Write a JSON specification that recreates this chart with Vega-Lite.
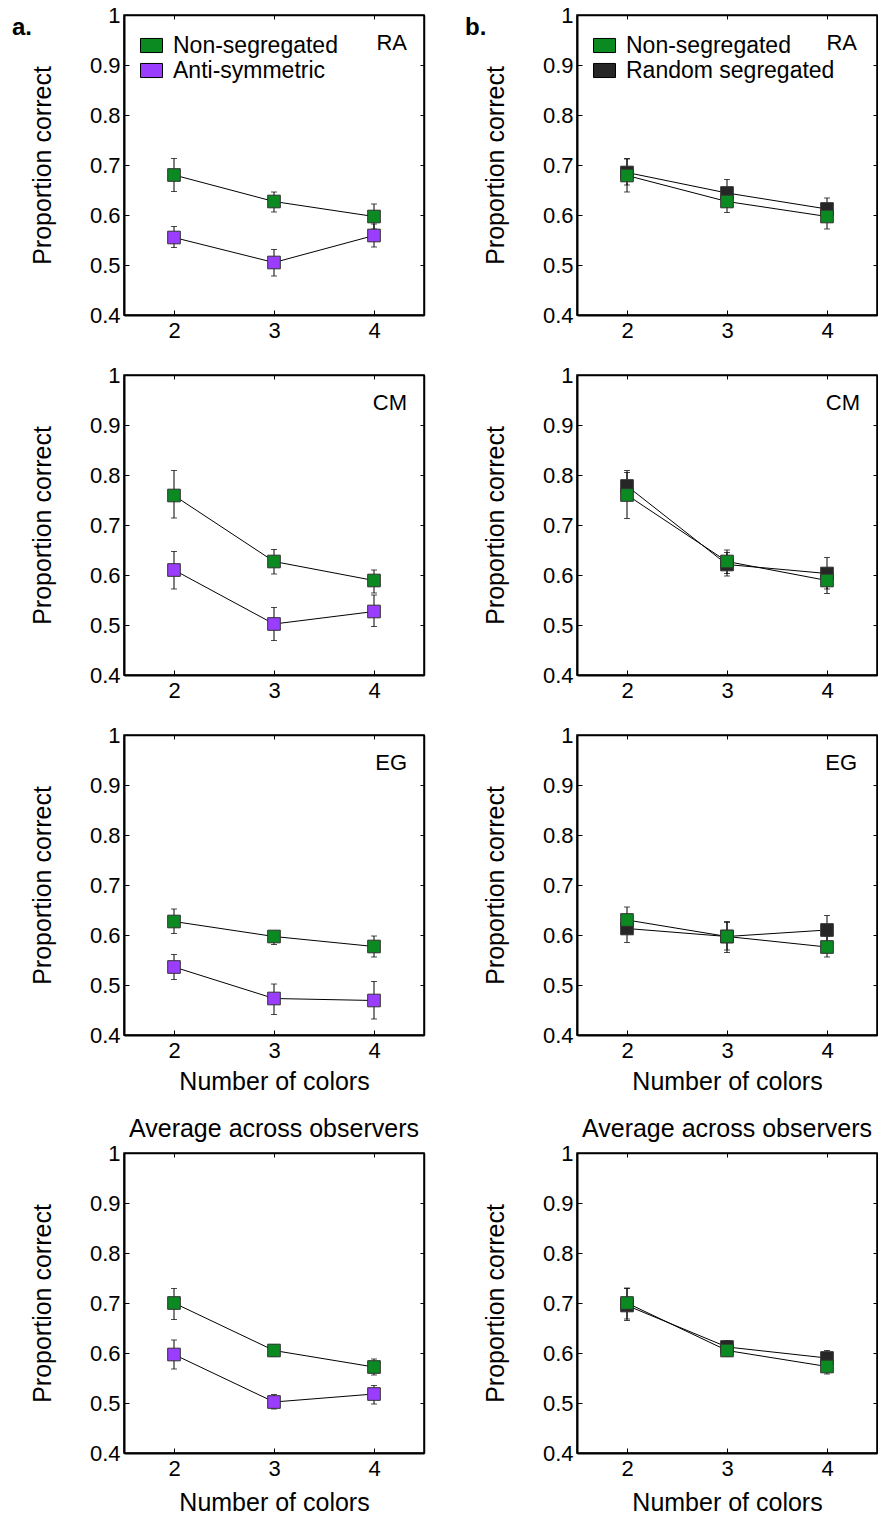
{
  "$schema": "https://vega.github.io/schema/vega-lite/v6.json",
  "background": "white",
  "padding": {"left": 12, "top": 3, "right": 0, "bottom": 0},
  "data": {"values": [
    {"panel": "aRA", "series": "Anti-symmetric", "n": 2, "mean": 0.555, "lo": 0.535, "hi": 0.577},
    {"panel": "aRA", "series": "Anti-symmetric", "n": 3, "mean": 0.505, "lo": 0.478, "hi": 0.531},
    {"panel": "aRA", "series": "Anti-symmetric", "n": 4, "mean": 0.559, "lo": 0.536, "hi": 0.582},
    {"panel": "aRA", "series": "Non-segregated", "n": 2, "mean": 0.68, "lo": 0.647, "hi": 0.713},
    {"panel": "aRA", "series": "Non-segregated", "n": 3, "mean": 0.627, "lo": 0.606, "hi": 0.646},
    {"panel": "aRA", "series": "Non-segregated", "n": 4, "mean": 0.597, "lo": 0.572, "hi": 0.622},
    {"panel": "bRA", "series": "Random segregated", "n": 2, "mean": 0.685, "lo": 0.66, "hi": 0.713},
    {"panel": "bRA", "series": "Random segregated", "n": 3, "mean": 0.644, "lo": 0.618, "hi": 0.671},
    {"panel": "bRA", "series": "Random segregated", "n": 4, "mean": 0.612, "lo": 0.59, "hi": 0.634},
    {"panel": "bRA", "series": "Non-segregated", "n": 2, "mean": 0.679, "lo": 0.646, "hi": 0.712},
    {"panel": "bRA", "series": "Non-segregated", "n": 3, "mean": 0.627, "lo": 0.605, "hi": 0.648},
    {"panel": "bRA", "series": "Non-segregated", "n": 4, "mean": 0.597, "lo": 0.572, "hi": 0.62},
    {"panel": "aCM", "series": "Anti-symmetric", "n": 2, "mean": 0.61, "lo": 0.572, "hi": 0.647},
    {"panel": "aCM", "series": "Anti-symmetric", "n": 3, "mean": 0.502, "lo": 0.469, "hi": 0.535},
    {"panel": "aCM", "series": "Anti-symmetric", "n": 4, "mean": 0.527, "lo": 0.497, "hi": 0.56},
    {"panel": "aCM", "series": "Non-segregated", "n": 2, "mean": 0.759, "lo": 0.714, "hi": 0.809},
    {"panel": "aCM", "series": "Non-segregated", "n": 3, "mean": 0.627, "lo": 0.602, "hi": 0.651},
    {"panel": "aCM", "series": "Non-segregated", "n": 4, "mean": 0.589, "lo": 0.564, "hi": 0.61},
    {"panel": "bCM", "series": "Random segregated", "n": 2, "mean": 0.778, "lo": 0.75, "hi": 0.809},
    {"panel": "bCM", "series": "Random segregated", "n": 3, "mean": 0.621, "lo": 0.598, "hi": 0.645},
    {"panel": "bCM", "series": "Random segregated", "n": 4, "mean": 0.603, "lo": 0.572, "hi": 0.635},
    {"panel": "bCM", "series": "Non-segregated", "n": 2, "mean": 0.76, "lo": 0.713, "hi": 0.805},
    {"panel": "bCM", "series": "Non-segregated", "n": 3, "mean": 0.627, "lo": 0.603, "hi": 0.65},
    {"panel": "bCM", "series": "Non-segregated", "n": 4, "mean": 0.589, "lo": 0.563, "hi": 0.612},
    {"panel": "aEG", "series": "Anti-symmetric", "n": 2, "mean": 0.536, "lo": 0.511, "hi": 0.561},
    {"panel": "aEG", "series": "Anti-symmetric", "n": 3, "mean": 0.473, "lo": 0.441, "hi": 0.502},
    {"panel": "aEG", "series": "Anti-symmetric", "n": 4, "mean": 0.469, "lo": 0.432, "hi": 0.507},
    {"panel": "aEG", "series": "Non-segregated", "n": 2, "mean": 0.627, "lo": 0.603, "hi": 0.652},
    {"panel": "aEG", "series": "Non-segregated", "n": 3, "mean": 0.597, "lo": 0.581, "hi": 0.607},
    {"panel": "aEG", "series": "Non-segregated", "n": 4, "mean": 0.577, "lo": 0.556, "hi": 0.598},
    {"panel": "bEG", "series": "Random segregated", "n": 2, "mean": 0.613, "lo": 0.585, "hi": 0.64},
    {"panel": "bEG", "series": "Random segregated", "n": 3, "mean": 0.597, "lo": 0.57, "hi": 0.627},
    {"panel": "bEG", "series": "Random segregated", "n": 4, "mean": 0.61, "lo": 0.583, "hi": 0.639},
    {"panel": "bEG", "series": "Non-segregated", "n": 2, "mean": 0.63, "lo": 0.605, "hi": 0.656},
    {"panel": "bEG", "series": "Non-segregated", "n": 3, "mean": 0.597, "lo": 0.565, "hi": 0.625},
    {"panel": "bEG", "series": "Non-segregated", "n": 4, "mean": 0.576, "lo": 0.556, "hi": 0.598},
    {"panel": "aAV", "series": "Anti-symmetric", "n": 2, "mean": 0.597, "lo": 0.568, "hi": 0.626},
    {"panel": "aAV", "series": "Anti-symmetric", "n": 3, "mean": 0.502, "lo": 0.488, "hi": 0.517},
    {"panel": "aAV", "series": "Anti-symmetric", "n": 4, "mean": 0.518, "lo": 0.498, "hi": 0.535},
    {"panel": "aAV", "series": "Non-segregated", "n": 2, "mean": 0.7, "lo": 0.667, "hi": 0.729},
    {"panel": "aAV", "series": "Non-segregated", "n": 3, "mean": 0.605, "lo": 0.593, "hi": 0.617},
    {"panel": "aAV", "series": "Non-segregated", "n": 4, "mean": 0.572, "lo": 0.556, "hi": 0.588},
    {"panel": "bAV", "series": "Random segregated", "n": 2, "mean": 0.695, "lo": 0.668, "hi": 0.73},
    {"panel": "bAV", "series": "Random segregated", "n": 3, "mean": 0.612, "lo": 0.6, "hi": 0.625},
    {"panel": "bAV", "series": "Random segregated", "n": 4, "mean": 0.59, "lo": 0.576, "hi": 0.605},
    {"panel": "bAV", "series": "Non-segregated", "n": 2, "mean": 0.7, "lo": 0.665, "hi": 0.729},
    {"panel": "bAV", "series": "Non-segregated", "n": 3, "mean": 0.605, "lo": 0.593, "hi": 0.617},
    {"panel": "bAV", "series": "Non-segregated", "n": 4, "mean": 0.573, "lo": 0.558, "hi": 0.588}
  ]},
  "spacing": 39,
  "resolve": {"scale": {"color": "independent"}, "legend": {"color": "independent"}},
  "hconcat": [
    {
      "title": {"text": "a.", "anchor": "start", "frame": "group", "fontSize": 24, "fontWeight": "bold", "offset": -37, "dx": -112},
      "spacing": 21,
      "resolve": {"scale": {"color": "independent"}, "legend": {"color": "independent"}},
      "vconcat": [
        {
          "width": 300, "height": 300,
          "title": {"text": "RA", "anchor": "end", "frame": "group", "offset": -51, "dx": -17, "fontSize": 22},
          "transform": [{"filter": "datum.panel === 'aRA'"}],
          "resolve": {"axis": {"x": "independent", "y": "independent"}},
          "layer": [
            {"mark": {"type": "rule", "color": "black", "strokeWidth": 1},
             "encoding": {
               "x": {"field": "n", "type": "quantitative", "scale": {"domain": [1.5, 4.5], "nice": false, "zero": false}, "axis": {"orient": "bottom", "values": [2, 3, 4], "format": "d", "title": null, "tickSize": -5, "labelPadding": 10, "domainWidth": 2}},
               "y": {"field": "lo", "type": "quantitative", "scale": {"domain": [0.4, 1], "nice": false, "zero": false}, "axis": {"orient": "left", "values": [0.4, 0.5, 0.6, 0.7, 0.8, 0.9, 1], "format": ".1~f", "title": "Proportion correct", "tickSize": -5, "labelPadding": 9, "titlePadding": 34, "domainWidth": 2}},
               "y2": {"field": "hi"}}},
            {"mark": {"type": "tick", "orient": "horizontal", "size": 6, "thickness": 1, "color": "black"},
             "encoding": {
               "x": {"field": "n", "type": "quantitative", "axis": {"orient": "top", "values": [2, 3, 4], "labels": false, "title": null, "tickSize": -4}},
               "y": {"field": "lo", "type": "quantitative", "axis": {"orient": "right", "values": [0.4, 0.5, 0.6, 0.7, 0.8, 0.9, 1], "labels": false, "title": null, "tickSize": -4}}}},
            {"mark": {"type": "tick", "orient": "horizontal", "size": 6, "thickness": 1, "color": "black"},
             "encoding": {"x": {"field": "n", "type": "quantitative", "axis": null}, "y": {"field": "hi", "type": "quantitative", "axis": null}}},
            {"mark": {"type": "line", "color": "black", "strokeWidth": 1},
             "encoding": {"x": {"field": "n", "type": "quantitative", "axis": null}, "y": {"field": "mean", "type": "quantitative", "axis": null}, "detail": {"field": "series"}}},
            {"mark": {"type": "point", "shape": "square", "filled": true, "size": 160, "opacity": 1, "stroke": "#333", "strokeWidth": 1},
             "encoding": {"x": {"field": "n", "type": "quantitative", "axis": null}, "y": {"field": "mean", "type": "quantitative", "axis": null},
               "color": {"field": "series", "type": "nominal", "scale": {"domain": ["Non-segregated", "Anti-symmetric"], "range": ["#0b8a22", "#9b3dff"]},
                 "legend": {"title": null, "orient": "none", "legendX": 16, "legendY": 19}}}}
          ]
        },
        {
          "width": 300, "height": 300,
          "title": {"text": "CM", "anchor": "end", "frame": "group", "offset": -51, "dx": -17, "fontSize": 22},
          "transform": [{"filter": "datum.panel === 'aCM'"}],
          "resolve": {"axis": {"x": "independent", "y": "independent"}},
          "layer": [
            {"mark": {"type": "rule", "color": "black", "strokeWidth": 1},
             "encoding": {
               "x": {"field": "n", "type": "quantitative", "scale": {"domain": [1.5, 4.5], "nice": false, "zero": false}, "axis": {"orient": "bottom", "values": [2, 3, 4], "format": "d", "title": null, "tickSize": -5, "labelPadding": 10, "domainWidth": 2}},
               "y": {"field": "lo", "type": "quantitative", "scale": {"domain": [0.4, 1], "nice": false, "zero": false}, "axis": {"orient": "left", "values": [0.4, 0.5, 0.6, 0.7, 0.8, 0.9, 1], "format": ".1~f", "title": "Proportion correct", "tickSize": -5, "labelPadding": 9, "titlePadding": 34, "domainWidth": 2}},
               "y2": {"field": "hi"}}},
            {"mark": {"type": "tick", "orient": "horizontal", "size": 6, "thickness": 1, "color": "black"},
             "encoding": {
               "x": {"field": "n", "type": "quantitative", "axis": {"orient": "top", "values": [2, 3, 4], "labels": false, "title": null, "tickSize": -4}},
               "y": {"field": "lo", "type": "quantitative", "axis": {"orient": "right", "values": [0.4, 0.5, 0.6, 0.7, 0.8, 0.9, 1], "labels": false, "title": null, "tickSize": -4}}}},
            {"mark": {"type": "tick", "orient": "horizontal", "size": 6, "thickness": 1, "color": "black"},
             "encoding": {"x": {"field": "n", "type": "quantitative", "axis": null}, "y": {"field": "hi", "type": "quantitative", "axis": null}}},
            {"mark": {"type": "line", "color": "black", "strokeWidth": 1},
             "encoding": {"x": {"field": "n", "type": "quantitative", "axis": null}, "y": {"field": "mean", "type": "quantitative", "axis": null}, "detail": {"field": "series"}}},
            {"mark": {"type": "point", "shape": "square", "filled": true, "size": 160, "opacity": 1, "stroke": "#333", "strokeWidth": 1},
             "encoding": {"x": {"field": "n", "type": "quantitative", "axis": null}, "y": {"field": "mean", "type": "quantitative", "axis": null},
               "color": {"field": "series", "type": "nominal", "scale": {"domain": ["Non-segregated", "Anti-symmetric"], "range": ["#0b8a22", "#9b3dff"]}, "legend": null}}}
          ]
        },
        {
          "width": 300, "height": 300,
          "title": {"text": "EG", "anchor": "end", "frame": "group", "offset": -51, "dx": -17, "fontSize": 22},
          "transform": [{"filter": "datum.panel === 'aEG'"}],
          "resolve": {"axis": {"x": "independent", "y": "independent"}},
          "layer": [
            {"mark": {"type": "rule", "color": "black", "strokeWidth": 1},
             "encoding": {
               "x": {"field": "n", "type": "quantitative", "scale": {"domain": [1.5, 4.5], "nice": false, "zero": false}, "axis": {"orient": "bottom", "values": [2, 3, 4], "format": "d", "title": "Number of colors", "titlePadding": 8, "tickSize": -5, "labelPadding": 10, "domainWidth": 2}},
               "y": {"field": "lo", "type": "quantitative", "scale": {"domain": [0.4, 1], "nice": false, "zero": false}, "axis": {"orient": "left", "values": [0.4, 0.5, 0.6, 0.7, 0.8, 0.9, 1], "format": ".1~f", "title": "Proportion correct", "tickSize": -5, "labelPadding": 9, "titlePadding": 34, "domainWidth": 2}},
               "y2": {"field": "hi"}}},
            {"mark": {"type": "tick", "orient": "horizontal", "size": 6, "thickness": 1, "color": "black"},
             "encoding": {
               "x": {"field": "n", "type": "quantitative", "axis": {"orient": "top", "values": [2, 3, 4], "labels": false, "title": null, "tickSize": -4}},
               "y": {"field": "lo", "type": "quantitative", "axis": {"orient": "right", "values": [0.4, 0.5, 0.6, 0.7, 0.8, 0.9, 1], "labels": false, "title": null, "tickSize": -4}}}},
            {"mark": {"type": "tick", "orient": "horizontal", "size": 6, "thickness": 1, "color": "black"},
             "encoding": {"x": {"field": "n", "type": "quantitative", "axis": null}, "y": {"field": "hi", "type": "quantitative", "axis": null}}},
            {"mark": {"type": "line", "color": "black", "strokeWidth": 1},
             "encoding": {"x": {"field": "n", "type": "quantitative", "axis": null}, "y": {"field": "mean", "type": "quantitative", "axis": null}, "detail": {"field": "series"}}},
            {"mark": {"type": "point", "shape": "square", "filled": true, "size": 160, "opacity": 1, "stroke": "#333", "strokeWidth": 1},
             "encoding": {"x": {"field": "n", "type": "quantitative", "axis": null}, "y": {"field": "mean", "type": "quantitative", "axis": null},
               "color": {"field": "series", "type": "nominal", "scale": {"domain": ["Non-segregated", "Anti-symmetric"], "range": ["#0b8a22", "#9b3dff"]}, "legend": null}}}
          ]
        },
        {
          "width": 300, "height": 300,
          "title": {"text": "Average across observers", "anchor": "middle", "frame": "group", "offset": 0, "fontSize": 25},
          "transform": [{"filter": "datum.panel === 'aAV'"}],
          "resolve": {"axis": {"x": "independent", "y": "independent"}},
          "layer": [
            {"mark": {"type": "rule", "color": "black", "strokeWidth": 1},
             "encoding": {
               "x": {"field": "n", "type": "quantitative", "scale": {"domain": [1.5, 4.5], "nice": false, "zero": false}, "axis": {"orient": "bottom", "values": [2, 3, 4], "format": "d", "title": "Number of colors", "titlePadding": 11, "tickSize": -5, "labelPadding": 10, "domainWidth": 2}},
               "y": {"field": "lo", "type": "quantitative", "scale": {"domain": [0.4, 1], "nice": false, "zero": false}, "axis": {"orient": "left", "values": [0.4, 0.5, 0.6, 0.7, 0.8, 0.9, 1], "format": ".1~f", "title": "Proportion correct", "tickSize": -5, "labelPadding": 9, "titlePadding": 34, "domainWidth": 2}},
               "y2": {"field": "hi"}}},
            {"mark": {"type": "tick", "orient": "horizontal", "size": 6, "thickness": 1, "color": "black"},
             "encoding": {
               "x": {"field": "n", "type": "quantitative", "axis": {"orient": "top", "values": [2, 3, 4], "labels": false, "title": null, "tickSize": -4}},
               "y": {"field": "lo", "type": "quantitative", "axis": {"orient": "right", "values": [0.4, 0.5, 0.6, 0.7, 0.8, 0.9, 1], "labels": false, "title": null, "tickSize": -4}}}},
            {"mark": {"type": "tick", "orient": "horizontal", "size": 6, "thickness": 1, "color": "black"},
             "encoding": {"x": {"field": "n", "type": "quantitative", "axis": null}, "y": {"field": "hi", "type": "quantitative", "axis": null}}},
            {"mark": {"type": "line", "color": "black", "strokeWidth": 1},
             "encoding": {"x": {"field": "n", "type": "quantitative", "axis": null}, "y": {"field": "mean", "type": "quantitative", "axis": null}, "detail": {"field": "series"}}},
            {"mark": {"type": "point", "shape": "square", "filled": true, "size": 160, "opacity": 1, "stroke": "#333", "strokeWidth": 1},
             "encoding": {"x": {"field": "n", "type": "quantitative", "axis": null}, "y": {"field": "mean", "type": "quantitative", "axis": null},
               "color": {"field": "series", "type": "nominal", "scale": {"domain": ["Non-segregated", "Anti-symmetric"], "range": ["#0b8a22", "#9b3dff"]}, "legend": null}}}
          ]
        }
      ]
    },
    {
      "title": {"text": "b.", "anchor": "start", "frame": "group", "fontSize": 24, "fontWeight": "bold", "offset": -37, "dx": -112},
      "spacing": 21,
      "resolve": {"scale": {"color": "independent"}, "legend": {"color": "independent"}},
      "vconcat": [
        {
          "width": 300, "height": 300,
          "title": {"text": "RA", "anchor": "end", "frame": "group", "offset": -51, "dx": -20, "fontSize": 22},
          "transform": [{"filter": "datum.panel === 'bRA'"}],
          "resolve": {"axis": {"x": "independent", "y": "independent"}},
          "layer": [
            {"mark": {"type": "rule", "color": "black", "strokeWidth": 1},
             "encoding": {
               "x": {"field": "n", "type": "quantitative", "scale": {"domain": [1.5, 4.5], "nice": false, "zero": false}, "axis": {"orient": "bottom", "values": [2, 3, 4], "format": "d", "title": null, "tickSize": -5, "labelPadding": 10, "domainWidth": 2}},
               "y": {"field": "lo", "type": "quantitative", "scale": {"domain": [0.4, 1], "nice": false, "zero": false}, "axis": {"orient": "left", "values": [0.4, 0.5, 0.6, 0.7, 0.8, 0.9, 1], "format": ".1~f", "title": "Proportion correct", "tickSize": -5, "labelPadding": 9, "titlePadding": 34, "domainWidth": 2}},
               "y2": {"field": "hi"}}},
            {"mark": {"type": "tick", "orient": "horizontal", "size": 6, "thickness": 1, "color": "black"},
             "encoding": {
               "x": {"field": "n", "type": "quantitative", "axis": {"orient": "top", "values": [2, 3, 4], "labels": false, "title": null, "tickSize": -4}},
               "y": {"field": "lo", "type": "quantitative", "axis": {"orient": "right", "values": [0.4, 0.5, 0.6, 0.7, 0.8, 0.9, 1], "labels": false, "title": null, "tickSize": -4}}}},
            {"mark": {"type": "tick", "orient": "horizontal", "size": 6, "thickness": 1, "color": "black"},
             "encoding": {"x": {"field": "n", "type": "quantitative", "axis": null}, "y": {"field": "hi", "type": "quantitative", "axis": null}}},
            {"mark": {"type": "line", "color": "black", "strokeWidth": 1},
             "encoding": {"x": {"field": "n", "type": "quantitative", "axis": null}, "y": {"field": "mean", "type": "quantitative", "axis": null}, "detail": {"field": "series"}}},
            {"mark": {"type": "point", "shape": "square", "filled": true, "size": 160, "opacity": 1, "stroke": "#333", "strokeWidth": 1},
             "encoding": {"x": {"field": "n", "type": "quantitative", "axis": null}, "y": {"field": "mean", "type": "quantitative", "axis": null},
               "color": {"field": "series", "type": "nominal", "scale": {"domain": ["Non-segregated", "Random segregated"], "range": ["#0b8a22", "#262626"]},
                 "legend": {"title": null, "orient": "none", "legendX": 16, "legendY": 19}}}}
          ]
        },
        {
          "width": 300, "height": 300,
          "title": {"text": "CM", "anchor": "end", "frame": "group", "offset": -51, "dx": -17, "fontSize": 22},
          "transform": [{"filter": "datum.panel === 'bCM'"}],
          "resolve": {"axis": {"x": "independent", "y": "independent"}},
          "layer": [
            {"mark": {"type": "rule", "color": "black", "strokeWidth": 1},
             "encoding": {
               "x": {"field": "n", "type": "quantitative", "scale": {"domain": [1.5, 4.5], "nice": false, "zero": false}, "axis": {"orient": "bottom", "values": [2, 3, 4], "format": "d", "title": null, "tickSize": -5, "labelPadding": 10, "domainWidth": 2}},
               "y": {"field": "lo", "type": "quantitative", "scale": {"domain": [0.4, 1], "nice": false, "zero": false}, "axis": {"orient": "left", "values": [0.4, 0.5, 0.6, 0.7, 0.8, 0.9, 1], "format": ".1~f", "title": "Proportion correct", "tickSize": -5, "labelPadding": 9, "titlePadding": 34, "domainWidth": 2}},
               "y2": {"field": "hi"}}},
            {"mark": {"type": "tick", "orient": "horizontal", "size": 6, "thickness": 1, "color": "black"},
             "encoding": {
               "x": {"field": "n", "type": "quantitative", "axis": {"orient": "top", "values": [2, 3, 4], "labels": false, "title": null, "tickSize": -4}},
               "y": {"field": "lo", "type": "quantitative", "axis": {"orient": "right", "values": [0.4, 0.5, 0.6, 0.7, 0.8, 0.9, 1], "labels": false, "title": null, "tickSize": -4}}}},
            {"mark": {"type": "tick", "orient": "horizontal", "size": 6, "thickness": 1, "color": "black"},
             "encoding": {"x": {"field": "n", "type": "quantitative", "axis": null}, "y": {"field": "hi", "type": "quantitative", "axis": null}}},
            {"mark": {"type": "line", "color": "black", "strokeWidth": 1},
             "encoding": {"x": {"field": "n", "type": "quantitative", "axis": null}, "y": {"field": "mean", "type": "quantitative", "axis": null}, "detail": {"field": "series"}}},
            {"mark": {"type": "point", "shape": "square", "filled": true, "size": 160, "opacity": 1, "stroke": "#333", "strokeWidth": 1},
             "encoding": {"x": {"field": "n", "type": "quantitative", "axis": null}, "y": {"field": "mean", "type": "quantitative", "axis": null},
               "color": {"field": "series", "type": "nominal", "scale": {"domain": ["Non-segregated", "Random segregated"], "range": ["#0b8a22", "#262626"]}, "legend": null}}}
          ]
        },
        {
          "width": 300, "height": 300,
          "title": {"text": "EG", "anchor": "end", "frame": "group", "offset": -51, "dx": -20, "fontSize": 22},
          "transform": [{"filter": "datum.panel === 'bEG'"}],
          "resolve": {"axis": {"x": "independent", "y": "independent"}},
          "layer": [
            {"mark": {"type": "rule", "color": "black", "strokeWidth": 1},
             "encoding": {
               "x": {"field": "n", "type": "quantitative", "scale": {"domain": [1.5, 4.5], "nice": false, "zero": false}, "axis": {"orient": "bottom", "values": [2, 3, 4], "format": "d", "title": "Number of colors", "titlePadding": 8, "tickSize": -5, "labelPadding": 10, "domainWidth": 2}},
               "y": {"field": "lo", "type": "quantitative", "scale": {"domain": [0.4, 1], "nice": false, "zero": false}, "axis": {"orient": "left", "values": [0.4, 0.5, 0.6, 0.7, 0.8, 0.9, 1], "format": ".1~f", "title": "Proportion correct", "tickSize": -5, "labelPadding": 9, "titlePadding": 34, "domainWidth": 2}},
               "y2": {"field": "hi"}}},
            {"mark": {"type": "tick", "orient": "horizontal", "size": 6, "thickness": 1, "color": "black"},
             "encoding": {
               "x": {"field": "n", "type": "quantitative", "axis": {"orient": "top", "values": [2, 3, 4], "labels": false, "title": null, "tickSize": -4}},
               "y": {"field": "lo", "type": "quantitative", "axis": {"orient": "right", "values": [0.4, 0.5, 0.6, 0.7, 0.8, 0.9, 1], "labels": false, "title": null, "tickSize": -4}}}},
            {"mark": {"type": "tick", "orient": "horizontal", "size": 6, "thickness": 1, "color": "black"},
             "encoding": {"x": {"field": "n", "type": "quantitative", "axis": null}, "y": {"field": "hi", "type": "quantitative", "axis": null}}},
            {"mark": {"type": "line", "color": "black", "strokeWidth": 1},
             "encoding": {"x": {"field": "n", "type": "quantitative", "axis": null}, "y": {"field": "mean", "type": "quantitative", "axis": null}, "detail": {"field": "series"}}},
            {"mark": {"type": "point", "shape": "square", "filled": true, "size": 160, "opacity": 1, "stroke": "#333", "strokeWidth": 1},
             "encoding": {"x": {"field": "n", "type": "quantitative", "axis": null}, "y": {"field": "mean", "type": "quantitative", "axis": null},
               "color": {"field": "series", "type": "nominal", "scale": {"domain": ["Non-segregated", "Random segregated"], "range": ["#0b8a22", "#262626"]}, "legend": null}}}
          ]
        },
        {
          "width": 300, "height": 300,
          "title": {"text": "Average across observers", "anchor": "middle", "frame": "group", "offset": 0, "fontSize": 25},
          "transform": [{"filter": "datum.panel === 'bAV'"}],
          "resolve": {"axis": {"x": "independent", "y": "independent"}},
          "layer": [
            {"mark": {"type": "rule", "color": "black", "strokeWidth": 1},
             "encoding": {
               "x": {"field": "n", "type": "quantitative", "scale": {"domain": [1.5, 4.5], "nice": false, "zero": false}, "axis": {"orient": "bottom", "values": [2, 3, 4], "format": "d", "title": "Number of colors", "titlePadding": 11, "tickSize": -5, "labelPadding": 10, "domainWidth": 2}},
               "y": {"field": "lo", "type": "quantitative", "scale": {"domain": [0.4, 1], "nice": false, "zero": false}, "axis": {"orient": "left", "values": [0.4, 0.5, 0.6, 0.7, 0.8, 0.9, 1], "format": ".1~f", "title": "Proportion correct", "tickSize": -5, "labelPadding": 9, "titlePadding": 34, "domainWidth": 2}},
               "y2": {"field": "hi"}}},
            {"mark": {"type": "tick", "orient": "horizontal", "size": 6, "thickness": 1, "color": "black"},
             "encoding": {
               "x": {"field": "n", "type": "quantitative", "axis": {"orient": "top", "values": [2, 3, 4], "labels": false, "title": null, "tickSize": -4}},
               "y": {"field": "lo", "type": "quantitative", "axis": {"orient": "right", "values": [0.4, 0.5, 0.6, 0.7, 0.8, 0.9, 1], "labels": false, "title": null, "tickSize": -4}}}},
            {"mark": {"type": "tick", "orient": "horizontal", "size": 6, "thickness": 1, "color": "black"},
             "encoding": {"x": {"field": "n", "type": "quantitative", "axis": null}, "y": {"field": "hi", "type": "quantitative", "axis": null}}},
            {"mark": {"type": "line", "color": "black", "strokeWidth": 1},
             "encoding": {"x": {"field": "n", "type": "quantitative", "axis": null}, "y": {"field": "mean", "type": "quantitative", "axis": null}, "detail": {"field": "series"}}},
            {"mark": {"type": "point", "shape": "square", "filled": true, "size": 160, "opacity": 1, "stroke": "#333", "strokeWidth": 1},
             "encoding": {"x": {"field": "n", "type": "quantitative", "axis": null}, "y": {"field": "mean", "type": "quantitative", "axis": null},
               "color": {"field": "series", "type": "nominal", "scale": {"domain": ["Non-segregated", "Random segregated"], "range": ["#0b8a22", "#262626"]}, "legend": null}}}
          ]
        }
      ]
    }
  ],
  "config": {
    "font": "Liberation Sans",
    "view": {"stroke": "black", "strokeWidth": 1.5},
    "axis": {"grid": false, "domainColor": "black", "tickColor": "black", "labelColor": "black", "titleColor": "black", "labelFont": "Liberation Sans", "titleFont": "Liberation Sans", "labelFontSize": 22, "titleFontSize": 25, "titleFontWeight": "normal", "domainWidth": 1.5, "tickWidth": 1},
    "legend": {"symbolType": "M-1,-0.64H1V0.64H-1Z", "symbolSize": 484, "symbolStrokeColor": "black", "symbolStrokeWidth": 1, "labelFontSize": 23, "labelFont": "Liberation Sans", "labelColor": "black", "labelOffset": 10, "labelLimit": 400, "rowPadding": 1, "padding": 0, "symbolOpacity": 1},
    "title": {"font": "Liberation Sans", "color": "black", "fontWeight": "normal"}
  }
}
